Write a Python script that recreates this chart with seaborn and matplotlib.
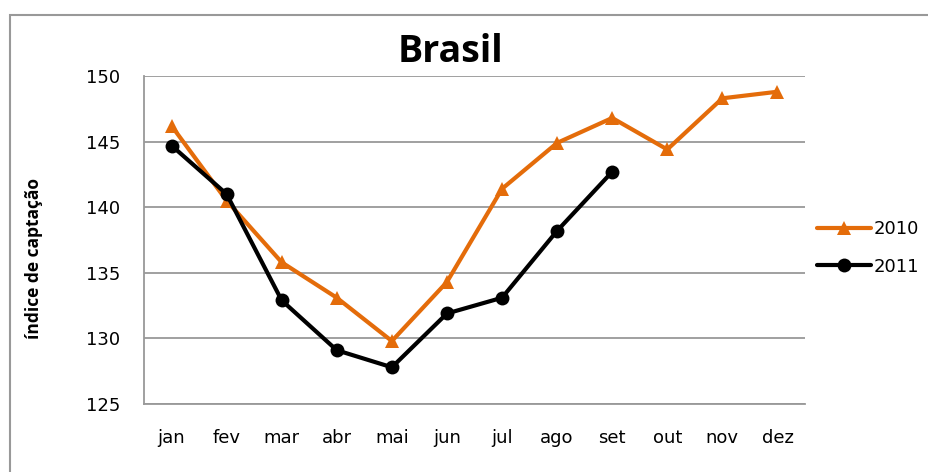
import matplotlib
matplotlib.use("Agg")
import matplotlib.pyplot as plt
import matplotlib.patches as mpatches
import seaborn as sns
import pandas as pd

# Data
meses = ["jan", "fev", "mar", "abr", "mai", "jun", "jul", "ago", "set", "out", "nov", "dez"]
valores_2010 = [146.2, 140.5, 135.8, 133.1, 129.8, 134.3, 141.4, 144.9, 146.8, 144.4, 148.3, 148.8]
valores_2011 = [144.7, 141.0, 132.9, 129.1, 127.8, 131.9, 133.1, 138.2, 142.7]
yticks = [125, 130, 135, 140, 145, 150]

sns.set_style("white")
plt.rcParams["font.family"] = ["DejaVu Sans"]
plt.rcParams["text.color"] = "black"
plt.rcParams["axes.labelcolor"] = "black"
plt.rcParams["xtick.labelcolor"] = "black"
plt.rcParams["ytick.labelcolor"] = "black"

df = pd.concat([
    pd.DataFrame({"pos": range(len(valores_2010)), "valor": valores_2010, "ano": "2010"}),
    pd.DataFrame({"pos": range(len(valores_2011)), "valor": valores_2011, "ano": "2011"}),
])

fig = plt.figure(figsize=(9.29, 4.72), dpi=100)
ax = fig.add_axes([0.155, 0.144, 0.7115, 0.695])

# outer chart border
fig.patches.append(mpatches.Rectangle((10 / 929, -0.1), 1.2, 1 - 15 / 472 + 0.1,
                                      transform=fig.transFigure, fill=False,
                                      edgecolor="#999999", linewidth=1.5, zorder=0))

sns.lineplot(data=df, x="pos", y="valor", hue="ano", style="ano",
             palette={"2010": "#E46C0A", "2011": "#000000"},
             markers={"2010": "^", "2011": "o"}, dashes=False,
             linewidth=3.0, markersize=10, markeredgewidth=0, ax=ax, legend=False)

ax.set_xlim(-0.5, 11.5)
ax.set_ylim(125, 150)
ax.set_yticks(yticks)
ax.set_yticklabels([str(v) for v in yticks], fontsize=13)
ax.set_xticks(range(12))
ax.set_xticklabels(meses, fontsize=13)
ax.set_xticks([i - 0.5 for i in range(13)], minor=True)
ax.tick_params(axis="x", which="major", length=0, pad=18)
ax.tick_params(axis="x", which="minor", length=5, color="#888888", width=1.3, direction="out")
ax.tick_params(axis="y", length=5, color="#888888", width=1.3, direction="out", pad=12)
ax.yaxis.grid(True, color="#999999", linewidth=1.3)
ax.set_axisbelow(True)
for s in ["top", "right"]:
    ax.spines[s].set_visible(False)
for s in ["left", "bottom"]:
    ax.spines[s].set_color("#999999")
    ax.spines[s].set_linewidth(1.3)

ax.set_xlabel("")
ax.set_ylabel("índice de captação", fontsize=12.5, fontweight="bold",
              family=["Open Sans", "DejaVu Sans"])
ax.yaxis.set_label_coords(-0.153, 0.445)
fig.text(0.485, 0.89, "Brasil", fontsize=27, fontweight="bold", ha="center", va="center",
         family=["Open Sans", "DejaVu Sans"])

h1, = ax.plot([], [], color="#E46C0A", marker="^", linewidth=3.0, markersize=10, markeredgewidth=0)
h2, = ax.plot([], [], color="#000000", marker="o", linewidth=3.0, markersize=10, markeredgewidth=0)
fig.legend([h1, h2], ["2010", "2011"], loc="center left", bbox_to_anchor=(0.866, 0.475),
           frameon=False, fontsize=13, handlelength=3.0, labelspacing=1.1, handletextpad=0.15,
           borderpad=0.2)

fig.savefig("out.png", dpi=100)
